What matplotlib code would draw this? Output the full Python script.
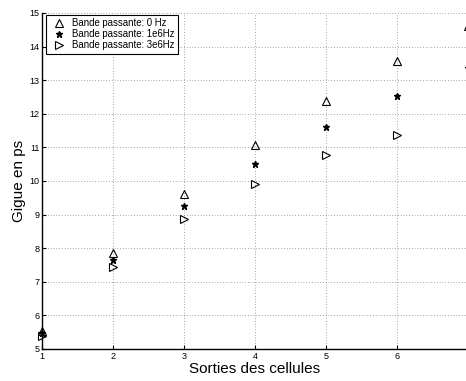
import matplotlib
matplotlib.use("Agg")
import matplotlib.pyplot as plt

plt.rcParams['font.family'] = ['Liberation Sans', 'DejaVu Sans']

nan = float("nan")
sorties = [1, 2, 3, 4, 5, 6, 7]
bp_0hz = [5.55, 7.85, 9.62, 11.08, 12.38, 13.58, 14.6]
bp_1e6 = [5.47, 7.64, 9.25, 10.52, 11.6, 12.52, 13.36]
bp_3e6 = [5.40, 7.44, 8.86, 9.92, 10.77, 11.38, nan]

labels = ["Bande passante: 0 Hz", "Bande passante: 1e6Hz", "Bande passante: 3e6Hz"]

fig = plt.figure(figsize=(4.66, 3.81), dpi=100)
ax = fig.add_axes([42 / 466, 1 - 349 / 381, 426 / 466, 336 / 381])

ax.plot(sorties, bp_0hz, linestyle="none", marker="^", markersize=6,
        markerfacecolor="none", markeredgecolor="black", markeredgewidth=0.8,
        label=labels[0], clip_on=False)
ax.plot(sorties, bp_1e6, linestyle="none", marker="*", markersize=5,
        color="black", label=labels[1], clip_on=False)
ax.plot(sorties, bp_3e6, linestyle="none", marker=">", markersize=6,
        markerfacecolor="none", markeredgecolor="black", markeredgewidth=0.8,
        label=labels[2], clip_on=False)

ax.set_xlim(1, 7)
ax.set_ylim(5, 15)
ax.set_xticks(range(1, 7))
ax.set_yticks(range(5, 16))
ax.tick_params(direction="in", length=3, width=0.8, labelsize=6.5, pad=2)
ax.grid(True, linestyle=(0, (1, 3)), color="#555555", linewidth=0.5)
ax.spines["top"].set_visible(False)
ax.spines["right"].set_visible(False)
ax.spines["left"].set_linewidth(1)
ax.spines["bottom"].set_linewidth(1)

ax.set_xlabel("Sorties des cellules", fontsize=11, labelpad=1)
ax.set_ylabel("Gigue en ps", fontsize=11, labelpad=2)

leg = ax.legend(loc="upper left", bbox_to_anchor=(0.0094, 0.994), fontsize=6.9,
                frameon=True, fancybox=False, framealpha=1, edgecolor="black",
                borderpad=0.35, handletextpad=0.4, handlelength=2.0,
                labelspacing=0.1, borderaxespad=0)
leg.get_frame().set_linewidth(0.8)

plt.savefig("out.png", dpi=100)
